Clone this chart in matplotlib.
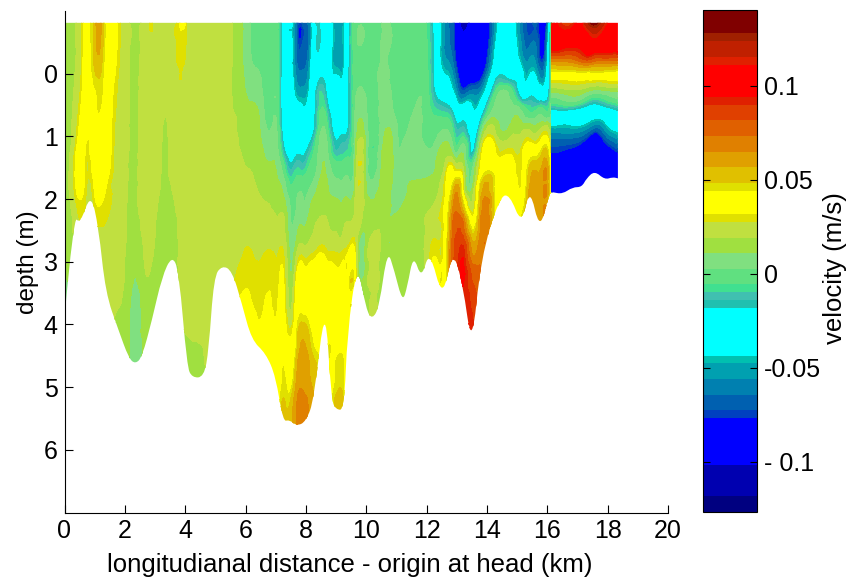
import numpy as np
import matplotlib
matplotlib.use("Agg")
import matplotlib.pyplot as plt
from matplotlib.colors import ListedColormap, BoundaryNorm
from matplotlib.patches import PathPatch
from matplotlib.path import Path
from matplotlib.tri import Triangulation, UniformTriRefiner

plt.rcParams['font.family'] = ['Liberation Sans', 'DejaVu Sans']

# colour bands, velocity in mm/s
band_edges = [-126.6, -118.1, -101.6, -76.4, -72.3, -64.2, -55.7, -47.5, -43.5, -18.2, -14.0,
              -9.7, -5.3, 2.7, 11.0, 19.1, 27.7, 31.9, 44.3, 48.6, 56.8, 64.9, 73.4, 81.9,
              90.1, 94.3, 111.0, 115.3, 123.8, 128.0, 140.4]
band_colors = ['#000080', '#0000b0', '#0000ff', '#0040c0', '#0060b0', '#0080b0', '#00a0b0',
               '#00c0b0', '#00ffff', '#20c0b0', '#40c0b0', '#40e090', '#60e080', '#80e080',
               '#a0e040', '#c0e040', '#e0e000', '#ffff00', '#e0e000', '#e0c000', '#e0a000',
               '#e08000', '#e06000', '#e04000', '#e02000', '#ff0000', '#e02000', '#c02000',
               '#a02000', '#800000']

# upstream part: one row per station, one value per depth
depths_a = [-0.82, -0.4, 0, 0.3, 0.6, 0.9, 1.2, 1.5, 1.8, 2.1, 2.4, 2.8, 3.2, 3.6, 4.0, 4.5, 5.0, 5.7]
stations_a = [0.0, 0.35, 0.6, 0.75, 0.95, 1.1, 1.25, 1.4, 1.6, 1.8, 2.1, 2.35, 2.7, 2.85, 3.05, 3.3, 3.6,
              3.95, 4.1, 4.4, 4.85, 5.3, 5.6, 5.9, 6.1, 6.5, 6.9, 7.1, 7.25, 7.5, 7.7, 7.9, 8.1, 8.25,
              8.55, 8.7, 8.9, 9.1, 9.25, 9.4, 9.6, 9.66, 10.0, 10.55, 11.0, 11.2, 11.6, 12.0, 12.3,
              12.65, 12.85, 13.0, 13.2, 13.5, 13.8, 14.3, 14.8, 15.1, 15.35, 15.6, 15.85, 16.05, 16.15]
velocity_a = [
    [15, 15, 15, 15, 15, 15, 15, 15, 15, 15, 15, 15, 12, 7, 5, 5, 5, 5],
    [18, 18, 19, 20, 22, 24, 28, 31, 30, 25, 22, 18, 16, 15, 15, 15, 15, 15],
    [30, 30, 31, 33, 36, 38, 38, 36, 34, 30, 28, 25, 22, 20, 20, 20, 20, 20],
    [40, 40, 40, 40, 40, 36, 29, 27, 27, 25, 25, 25, 24, 22, 22, 22, 22, 22],
    [47, 47, 45, 42, 39, 39, 38, 34, 30, 27, 27, 25, 25, 24, 22, 22, 22, 22],
    [62, 58, 50, 45, 44, 42, 36, 38, 38, 32, 28, 25, 25, 24, 22, 22, 22, 22],
    [52, 50, 46, 44, 42, 40, 38, 38, 38, 31, 28, 25, 25, 24, 22, 22, 22, 22],
    [40, 40, 38, 38, 38, 38, 38, 36, 31, 30, 27, 25, 24, 24, 22, 22, 22, 22],
    [36, 36, 34, 32, 31, 30, 29, 28, 27, 26, 25, 24, 24, 22, 20, 20, 20, 20],
    [30, 29, 27, 26, 25, 25, 25, 25, 25, 24, 24, 23, 22, 20, 18, 16, 16, 16],
    [20, 20, 20, 20, 20, 20, 20, 19, 19, 18, 18, 17, 16, 14, 13, 13, 13, 13],
    [17, 17, 17, 17, 17, 17, 17, 17, 17, 17, 16, 14, 11, 8, 6, 5, 5, 5],
    [24, 24, 24, 24, 24, 24, 24, 24, 24, 24, 23, 22, 19, 16, 15, 15, 15, 15],
    [28, 26, 24, 24, 24, 24, 24, 24, 24, 24, 24, 23, 18, 15, 13, 13, 13, 13],
    [24, 24, 24, 24, 24, 24, 24, 24, 22, 20, 18, 16, 15, 14, 13, 13, 13, 13],
    [24, 24, 24, 24, 20, 18, 17, 17, 17, 16, 16, 15, 14, 13, 12, 12, 12, 12],
    [24, 24, 24, 24, 24, 24, 24, 23, 20, 18, 16, 15, 15, 15, 15, 15, 15, 15],
    [34, 30, 27, 25, 24, 24, 24, 24, 24, 24, 24, 23, 23, 22, 20, 16, 15, 15],
    [24, 24, 24, 24, 24, 24, 24, 24, 24, 24, 24, 24, 24, 23, 21, 17, 15, 15],
    [24, 24, 24, 24, 24, 24, 24, 24, 24, 24, 24, 24, 24, 23, 22, 17, 14, 14],
    [24, 24, 24, 24, 24, 24, 24, 24, 24, 24, 24, 24, 24, 24, 24, 22, 20, 20],
    [24, 24, 24, 24, 24, 24, 24, 24, 24, 24, 24, 24, 24, 24, 24, 24, 24, 24],
    [18, 18, 18, 18, 19, 20, 21, 23, 24, 24, 24, 25, 27, 29, 30, 30, 30, 30],
    [11, 11, 12, 14, 16, 17, 18, 20, 22, 24, 25, 27, 29, 33, 38, 38, 38, 38],
    [4, 4, 6, 9, 13, 16, 17, 19, 21, 23, 25, 28, 30, 33, 38, 39, 39, 39],
    [0, 0, 2, 5, 8, 10, 13, 15, 18, 20, 22, 26, 29, 30, 33, 39, 40, 40],
    [-1, -1, -1, 0, 0, 4, 8, 12, 15, 18, 22, 27, 30, 31, 34, 38, 38, 44],
    [-6, -6, -6, -7, -7, -4, 0, 7, 12, 16, 21, 27, 30, 33, 36, 37, 36, 50],
    [-30, -30, -30, -30, -30, -25, -16, -2, 8, 15, 22, 27, 32, 36, 38, 42, 46, 55],
    [-38, -38, -38, -36, -35, -30, -26, -16, -5, 1, 3, 7, 10, 15, 25, 36, 42, 50],
    [-68, -68, -60, -50, -35, -27, -22, -10, 0, 3, 8, 17, 32, 38, 42, 50, 60, 64],
    [-70, -70, -62, -52, -40, -28, -22, -12, 1, 3, 10, 22, 37, 38, 50, 62, 64, 64],
    [-62, -62, -52, -44, -35, -25, -16, -5, 2, 8, 14, 23, 37, 38, 44, 55, 60, 60],
    [-30, -30, -29, -27, -25, -21, -8, -2, 5, 14, 18, 25, 38, 38, 38, 48, 55, 55],
    [-25, -25, -20, -10, -3, 4, 8, 11, 15, 17, 22, 30, 38, 42, 38, 38, 38, 38],
    [-30, -30, -28, -22, -12, -3, 4, 8, 12, 16, 20, 27, 38, 38, 36, 30, 33, 33],
    [-48, -48, -44, -28, -24, -20, -12, 0, 7, 14, 18, 26, 36, 38, 38, 36, 42, 42],
    [-52, -52, -46, -30, -26, -22, -14, -3, 5, 12, 17, 25, 36, 38, 34, 45, 48, 48],
    [-48, -48, -44, -28, -24, -20, -12, -2, 5, 13, 18, 27, 36, 38, 36, 42, 44, 44],
    [-25, -25, -22, -20, -20, -18, -10, 0, 6, 14, 20, 30, 36, 38, 38, 38, 38, 38],
    [-3, -3, -3, -2, -1, 1, 2, 5, 10, 18, 23, 33, 42, 38, 38, 38, 38, 38],
    [0, 0, 0, 2, 5, 8, 13, 17, 20, 23, 24, 24, 28, 28, 28, 28, 28, 28],
    [-2, -2, -2, 1, 3, 5, 6, 6, 10, 15, 15, 15, 15, 15, 15, 15, 15, 15],
    [4, 4, 5, 5, 6, 8, 12, 14, 15, 15, 15, 15, 15, 15, 15, 15, 15, 15],
    [-2, -2, -2, -1, 0, 4, 5, 6, 6, 9, 13, 15, 15, 15, 15, 15, 15, 15],
    [-2, -2, -2, -2, -1, 0, 4, 6, 8, 11, 13, 15, 15, 15, 15, 15, 15, 15],
    [-1, -1, -1, 0, 3, 5, 6, 8, 12, 15, 15, 15, 15, 15, 15, 15, 15, 15],
    [-5, -4, -3, -2, -1, 0, 3, 8, 13, 17, 20, 22, 24, 24, 24, 24, 24, 24],
    [-30, -28, -26, -20, -8, 0, 6, 11, 15, 21, 26, 30, 38, 40, 40, 40, 40, 40],
    [-62, -60, -45, -30, -11, 3, 15, 25, 32, 36, 38, 40, 42, 44, 44, 44, 44, 44],
    [-70, -68, -55, -40, -18, -5, 6, 32, 45, 60, 70, 76, 78, 78, 78, 78, 78, 78],
    [-88, -85, -72, -55, -30, -14, -3, 25, 60, 70, 80, 85, 88, 88, 88, 88, 88, 88],
    [-110, -95, -90, -70, -30, -12, 8, 20, 30, 50, 75, 92, 96, 92, 92, 92, 92, 92],
    [-95, -90, -90, -60, -40, -30, -22, 0, 8, 20, 38, 62, 80, 88, 92, 92, 92, 92],
    [-95, -95, -85, -55, -30, -2, 23, 34, 50, 60, 66, 72, 72, 72, 72, 72, 72, 72],
    [-52, -40, -25, -3, 6, 17, 30, 38, 38, 38, 38, 38, 38, 38, 38, 38, 38, 38],
    [-30, -30, -26, -2, 6, 15, 28, 38, 38, 38, 38, 38, 38, 38, 38, 38, 38, 38],
    [-60, -52, -35, -25, 5, 17, 26, 29, 31, 36, 46, 46, 46, 46, 46, 46, 46, 46],
    [-74, -65, -48, -28, -5, 20, 38, 45, 50, 55, 55, 55, 55, 55, 55, 55, 55, 55],
    [-70, -62, -45, -25, -5, 15, 36, 55, 62, 62, 62, 62, 62, 62, 62, 62, 62, 62],
    [-90, -85, -62, -35, -2, 24, 46, 60, 62, 62, 62, 62, 62, 62, 62, 62, 62, 62],
    [-50, -35, -25, -20, -5, 20, 38, 50, 50, 50, 50, 50, 50, 50, 50, 50, 50, 50],
    [5, 5, 5, 5, 5, 5, 5, 5, 5, 5, 5, 5, 5, 5, 5, 5, 5, 5],
]

# downstream part, strongly layered so it gets its own finer depths
depths_b = [-0.82, -0.6, -0.4, -0.2, 0, 0.15, 0.3, 0.45, 0.6, 0.8, 1.0, 1.2, 1.5, 2.0]
stations_b = [16.15, 16.3, 16.85, 17.3, 17.6, 18.0, 18.36]
velocity_b = [
    [90, 100, 96, 66, 40, 27, 10, -3, -22, -42, -62, -74, -88, -90],
    [95, 100, 98, 66, 40, 27, 10, -3, -22, -42, -62, -74, -88, -90],
    [88, 100, 92, 68, 40, 29, 15, 2, -24, -42, -62, -78, -92, -95],
    [120, 105, 100, 78, 40, 27, 9, -10, -28, -46, -72, -88, -92, -92],
    [132, 112, 100, 72, 42, 25, 4, -15, -32, -55, -85, -92, -92, -92],
    [110, 102, 100, 72, 40, 27, 7, -8, -26, -42, -62, -82, -92, -92],
    [105, 100, 100, 70, 38, 28, 9, -2, -20, -35, -50, -72, -88, -90],
]

# river bed
bed_x = [0, 0.3, 0.52, 0.87, 1.13, 1.36, 1.79, 2.13, 2.35, 2.57, 2.9, 3.23, 3.56, 3.79, 4.06,
         4.23, 4.62, 4.78, 4.95, 5.22, 5.55, 5.88, 6.2, 6.67, 7.0, 7.24, 7.45, 7.7, 8.0, 8.27, 8.64,
         8.84, 9.0, 9.27, 9.37, 9.7, 10.0, 10.2, 10.43, 10.7, 10.93, 11.2, 11.36, 11.56, 11.83,
         12.1, 12.53, 12.86, 13.2, 13.5, 13.8, 14.42, 14.75, 15.15, 15.42, 15.75, 16.08, 16.18,
         16.5, 16.84, 17.14, 17.3, 17.57, 17.9, 18.17, 18.34]
bed_depth = [3.9, 2.26, 2.4, 1.9, 2.45, 3.5, 4.09, 4.54, 4.63, 4.52, 3.93, 3.24, 2.9, 3.14,
             4.67, 4.85, 4.84, 4.41, 3.24, 3.06, 3.14, 3.67, 4.25, 4.46, 4.83, 5.55, 5.52, 5.62, 5.55,
             5.2, 3.6, 5.2, 5.36, 5.36, 4.14, 3.0, 3.77, 3.92, 3.72, 2.8, 3.14, 3.65, 3.4,
             2.88, 3.28, 2.8, 3.62, 2.8, 3.35, 4.4, 2.93, 1.97, 1.92, 2.42, 1.8, 2.52, 1.89,
             1.89, 1.92, 1.81, 1.81, 1.67, 1.55, 1.69, 1.65, 1.67]
surface_depth = -0.81

cbar_ticks = [-100, -50, 0, 50, 100]
cbar_labels = ['- 0.1', '-0.05', '0', '0.05', '0.1']


def bed_outline():
    # rounded outline of the section, bed points act as quadratic control points
    verts = [(0, surface_depth), (bed_x[0], bed_depth[0])]
    codes = [Path.MOVETO, Path.LINETO]
    for i in range(1, len(bed_x) - 1):
        verts.append((bed_x[i], bed_depth[i]))
        codes.append(Path.CURVE3)
        verts.append(((bed_x[i] + bed_x[i + 1]) / 2, (bed_depth[i] + bed_depth[i + 1]) / 2))
        codes.append(Path.CURVE3)
    verts += [(bed_x[-1], bed_depth[-1]), (bed_x[-1], surface_depth), (0, surface_depth)]
    codes += [Path.LINETO, Path.LINETO, Path.CLOSEPOLY]
    return Path(verts, codes)


def grid_triangles(nx, ny):
    tris = []
    for i in range(nx - 1):
        for j in range(ny - 1):
            a = j * nx + i
            tris.append([a, a + 1, a + nx])
            tris.append([a + 1, a + nx + 1, a + nx])
    return tris


W, H = 848, 578
fig = plt.figure(figsize=(W / 100, H / 100), dpi=100)
ax = fig.add_axes([64.5 / W, 1 - 512.5 / H, (668 - 64.5) / W, (512.5 - 11) / H])
cax = fig.add_axes([703 / W, 1 - 512 / H, (757 - 703) / W, (512 - 10) / H])

cmap = ListedColormap(band_colors)
norm = BoundaryNorm(band_edges, cmap.N)

for st, de, vel in [(stations_a, depths_a, velocity_a), (stations_b, depths_b, velocity_b)]:
    xx, yy = np.meshgrid(st, de)
    tri = Triangulation(xx.ravel(), yy.ravel(), grid_triangles(len(st), len(de)))
    fine_tri, fine_v = UniformTriRefiner(tri).refine_field(np.array(vel).T.ravel(), subdiv=2)
    fine_v = np.clip(fine_v, band_edges[0], band_edges[-1])
    cs = ax.tricontourf(fine_tri, fine_v, levels=band_edges, cmap=cmap, norm=norm)
    cs.set_edgecolor('face')
    cs.set_linewidth(0.3)
    cs.set_clip_path(PathPatch(bed_outline(), transform=ax.transData))

ax.set_xlim(0, 20)
ax.set_ylim(7, -1)
ax.set_xticks(range(0, 21, 2))
ax.set_yticks(range(0, 7))
ax.tick_params(direction='in', length=6, width=0.8, labelsize=18, pad=5)
ax.spines['top'].set_visible(False)
ax.spines['right'].set_visible(False)
ax.set_xlabel('longitudianal distance - origin at head (km)', fontsize=18.5)
ax.xaxis.set_label_coords(0.473, -0.08)
ax.set_ylabel('depth (m)', fontsize=17.5, labelpad=3)

sm = plt.cm.ScalarMappable(norm=norm, cmap=cmap)
cb = fig.colorbar(sm, cax=cax, spacing='proportional', ticks=cbar_ticks)
cb.ax.set_yticklabels(cbar_labels)
cb.ax.tick_params(direction='in', length=5, width=0.8, labelsize=18, pad=5, left=True, right=True)
cb.minorticks_off()
cb.set_label('velocity (m/s)', fontsize=18.5)
cb.ax.yaxis.set_label_coords(2.22, 0.486)

fig.savefig('out.png', dpi=100)
